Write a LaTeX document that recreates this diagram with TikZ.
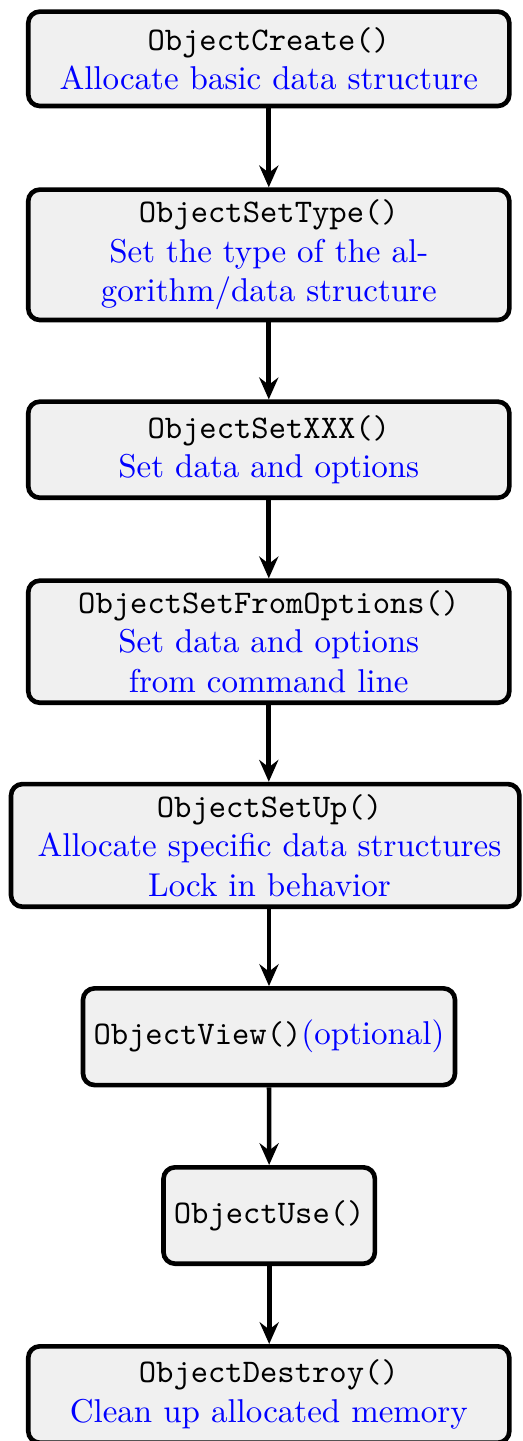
\documentclass[tikz,border=0pt]{standalone}
\usetikzlibrary{arrows.meta}
\newcommand{\pxu}{0.30303pt}
\tikzset{
  flowbox/.style={draw=black, line width=1.4pt, fill=black!6, rounded corners=3.5pt,
    align=center, inner sep=0pt, font=\normalsize},
  arr/.style={line width=1.4pt, -{Stealth[length=6.6pt,width=5.8pt,inset=2.2pt]}}
}
\newcommand{\dsc}[1]{\textcolor{blue}{#1}}
\begin{document}
\begin{tikzpicture}[x=0.30303pt, y=-0.30303pt]
\useasboundingbox (0,0) rectangle (522,1441);
\node[flowbox, minimum width=481.1*\pxu, minimum height=94.4*\pxu] (n1) at (268.8,58.8)
  {\texttt{ObjectCreate()}\\ \dsc{Allocate basic data structure}};
\node[flowbox, minimum width=481.1*\pxu, minimum height=130.4*\pxu] (n2) at (268.8,254.8)
  {\texttt{ObjectSetType()}\\ \dsc{Set the type of the al-}\\ \dsc{gorithm/data structure}};
\node[flowbox, minimum width=481.1*\pxu, minimum height=96.1*\pxu] (n3) at (268.8,449.7)
  {\texttt{ObjectSetXXX()}\\ \dsc{Set data and options}};
\node[flowbox, minimum width=481.1*\pxu, minimum height=122.1*\pxu] (n4) at (268.8,641.7)
  {\texttt{ObjectSetFromOptions()}\\ \dsc{Set data and options}\\ \dsc{from command line}};
\node[flowbox, minimum width=508.4*\pxu, minimum height=122.7*\pxu] (n5) at (265.2,845.4)
  {\hspace*{2.6pt}\texttt{ObjectSetUp()}\\ \hspace*{2.6pt}\dsc{Allocate specific data structures}\\ \hspace*{2.6pt}\dsc{Lock in behavior}};
\node[flowbox, minimum width=372*\pxu, minimum height=96.7*\pxu] (n6) at (269,1036.7)
  {\texttt{ObjectView()}\dsc{(optional)}};
\node[flowbox, minimum width=211.4*\pxu, minimum height=96.4*\pxu] (n7) at (269.2,1215.5)
  {\texttt{ObjectUse()}};
\node[flowbox, minimum width=481.1*\pxu, minimum height=96.4*\pxu] (n8) at (268.8,1394.5)
  {\texttt{ObjectDestroy()}\\ \dsc{Clean up allocated memory}};
\draw[arr] (n1) -- (n2);
\draw[arr] (n2) -- (n3);
\draw[arr] (n3) -- (n4);
\draw[arr] (n4.south) -- (n4.south |- n5.north);
\draw[arr] (n6.north |- n5.south) -- (n6.north);
\draw[arr] (n6) -- (n7);
\draw[arr] (n7.south) -- (n7.south |- n8.north);
\end{tikzpicture}
\end{document}
